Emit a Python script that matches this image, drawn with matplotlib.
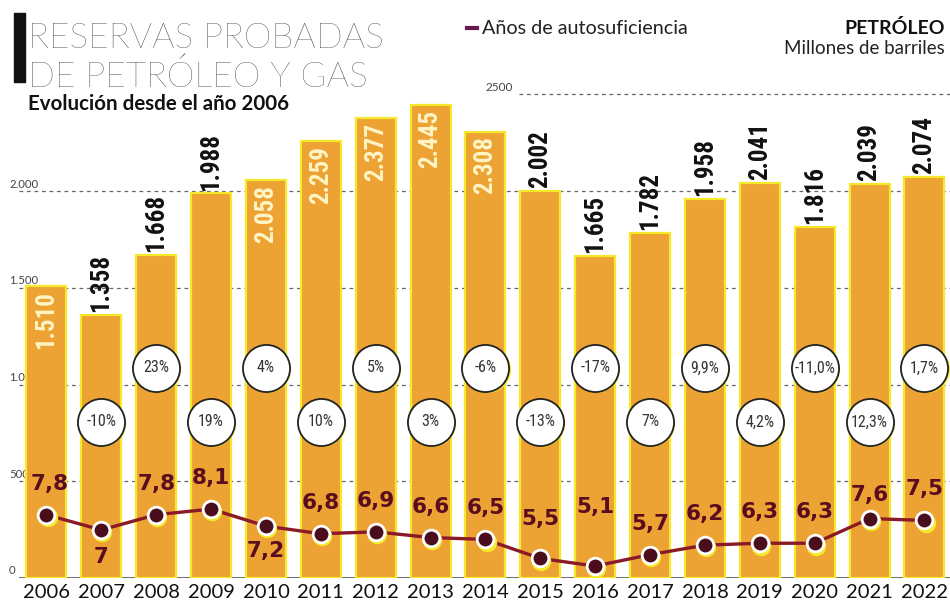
import numpy as np
import matplotlib.pyplot as plt
from matplotlib import font_manager
from matplotlib.lines import Line2D
from matplotlib.patches import Rectangle

years = ['2006', '2007', '2008', '2009', '2010', '2011', '2012', '2013', '2014',
         '2015', '2016', '2017', '2018', '2019', '2020', '2021', '2022']
reservas = [1510, 1358, 1668, 1988, 2058, 2259, 2377, 2445, 2308,
            2002, 1665, 1782, 1958, 2041, 1816, 2039, 2074]
etiquetas = ['1.510', '1.358', '1.668', '1.988', '2.058', '2.259', '2.377', '2.445', '2.308',
             '2.002', '1.665', '1.782', '1.958', '2.041', '1.816', '2.039', '2.074']
dentro = [True, False, False, False, True, True, True, True, True,
          False, False, False, False, False, False, False, False]
variacion = ['', '-10%', '23%', '19%', '4%', '10%', '5%', '3%', '-6%',
             '-13%', '-17%', '7%', '9,9%', '4,2%', '-11,0%', '12,3%', '1,7%']
autosuf = [7.8, 7.0, 7.8, 8.1, 7.2, 6.8, 6.9, 6.6, 6.5, 5.5, 5.1, 5.7, 6.2, 6.3, 6.3, 7.6, 7.5]
autosuf_txt = ['7,8', '7', '7,8', '8,1', '7,2', '6,8', '6,9', '6,6', '6,5',
               '5,5', '5,1', '5,7', '6,2', '6,3', '6,3', '7,6', '7,5']
ticks_y = [0, 500, 1000, 1500, 2000]
ticks_txt = ['0', '500', '1.000', '1.500', '2.000']

naranja = '#eda234'
amarillo = '#f6e82a'
granate = '#4a0d1c'
linea = '#8a1a28'
sans = ['Lato', 'DejaVu Sans']

# look for a narrow font for the bar values
fuentes = font_manager.fontManager.ttflist
nombres = {f.name for f in fuentes}
stretch = 'normal'
narrow = ['DejaVu Sans']
size_bar = 15
for cand in ['Roboto Condensed', 'Liberation Sans Narrow', 'Open Sans Condensed', 'DejaVu Sans Condensed']:
    if cand in nombres:
        narrow = [cand, 'DejaVu Sans']
        size_bar = 18
        break
else:
    if any(f.name == 'DejaVu Sans' and f.stretch in ('condensed', 87.5) for f in fuentes):
        stretch = 'condensed'
        size_bar = 18

fig = plt.figure(figsize=(9.5, 6.05), dpi=100)
ax = fig.add_axes([0.02, 0.0446, 0.982, 0.8314])
x = np.arange(len(years))

ax.set_xlim(-0.5, len(years) - 0.5)
ax.set_ylim(0, 2600)
for s in ax.spines.values():
    s.set_visible(False)
ax.set_yticks([])
ax.set_xticks(x)
ax.set_xticklabels(years, fontsize=14.5, family=sans, color='#111')
ax.tick_params(axis='x', length=0, pad=4)

# grid
for t, lab in zip(ticks_y, ticks_txt):
    if t > 0:
        ax.axhline(t, color='#666', lw=0.9, ls=(0, (3, 3)), zorder=0)
    ax.text(-0.68, t + 8, lab, fontsize=8.2, color='#444', ha='left', va='bottom',
            family=sans, zorder=1, clip_on=False)
ax.plot([8.62, 16.5], [2500, 2500], color='#666', lw=0.9, ls=(0, (3, 3)), zorder=0)
ax.text(8.0, 2508, '2500', fontsize=8.5, color='#444', ha='left', va='bottom', family=sans)
ax.axhline(0, color='#555', lw=1.2, zorder=0)

ax.bar(x, reservas, width=0.73, color=naranja, edgecolor=amarillo, linewidth=1.6, zorder=2)

for i in range(len(years)):
    if dentro[i]:
        ax.text(x[i], reservas[i] - 25, etiquetas[i], rotation=90, ha='center', va='top',
                fontsize=size_bar, weight='bold', color='#fff4c4', family=narrow,
                fontstretch=stretch, zorder=4)
    else:
        ax.text(x[i], reservas[i] + 15, etiquetas[i], rotation=90, ha='center', va='bottom',
                fontsize=size_bar, weight='bold', color='#111', family=narrow,
                fontstretch=stretch, zorder=4)

# circulos de variacion
for i in range(1, len(years)):
    cy = 1086 if i % 2 == 0 else 807
    ax.scatter(x[i] + 0.02, cy - 7, s=1150, color=amarillo, zorder=4, linewidths=0)
    ax.scatter(x[i], cy, s=1150, facecolor='white', edgecolor='#222', linewidths=1.3, zorder=5)
    ax.text(x[i], cy, variacion[i], ha='center', va='center', fontsize=11.5,
            family=narrow, fontstretch=stretch, color='#333', zorder=6)

# anos de autosuficiencia
ax2 = ax.twinx()
ax2.set_position(ax.get_position())
ax2.set_ylim(4.47, 30.94)
ax2.axis('off')
ax2.plot(x, autosuf, color=linea, lw=2.4, zorder=3)
ax2.plot(x + 0.02, np.array(autosuf) - 0.12, 'o', ms=13, color=amarillo, zorder=3)
ax2.plot(x, autosuf, 'o', ms=12, markerfacecolor=granate, markeredgecolor='white',
         markeredgewidth=2, zorder=4)
debajo = {1: 27, 4: 25}
extra = {9: 39, 10: 59, 15: 24}
for i in range(len(years)):
    if i in debajo:
        off = -debajo[i]
    else:
        off = extra.get(i, 31)
    dx = 2 if i == 0 else 0
    ax2.annotate(autosuf_txt[i], (x[i], autosuf[i]), xytext=(dx, off * 0.72),
                 textcoords='offset points', ha='center', va='center', fontsize=15.5,
                 weight='bold', color='#5a0d1e', zorder=5)

# titulos
fig.add_artist(Rectangle((14 / 950, 1 - 82 / 605), 11 / 950, 69 / 605,
                         transform=fig.transFigure, color='#111'))
fig.text(28 / 950, 1 - 48 / 605, 'RESERVAS PROBADAS', fontsize=25.4,
         family=sans, weight='light', color='#222', va='baseline')
fig.text(28 / 950, 1 - 87 / 605, 'DE PETRÓLEO Y GAS', fontsize=25.4,
         family=sans, weight='light', color='#222', va='baseline')
fig.text(28 / 950, 1 - 110 / 605, 'Evolución desde el año 2006', fontsize=14.8,
         family=sans, weight='bold', color='#111', va='baseline')

fig.add_artist(Line2D([467 / 950, 477 / 950], [1 - 28 / 605, 1 - 28 / 605],
                      transform=fig.transFigure, color='#6a1a4a', lw=3))
fig.text(482 / 950, 1 - 28 / 605, 'Años de autosuficiencia', fontsize=14.2,
         family=sans, color='#222', va='center')
fig.text(945 / 950, 1 - 28 / 605, 'PETRÓLEO', fontsize=14,
         family=sans, weight='bold', color='#111', va='center', ha='right')
fig.text(945 / 950, 1 - 49 / 605, 'Millones de barriles', fontsize=13.5,
         family=sans, color='#222', va='center', ha='right')

fig.savefig('out.png', dpi=100, facecolor='white')
